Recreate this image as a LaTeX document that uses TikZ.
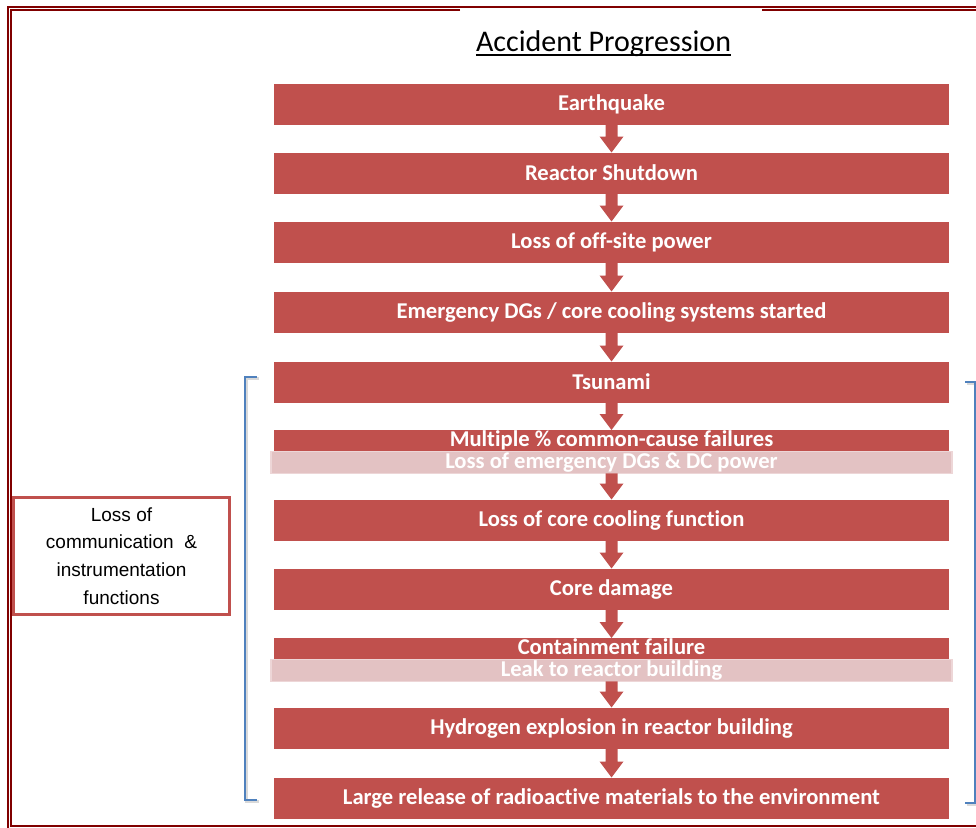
\documentclass[tikz,border=0pt]{standalone}
\usepackage{fontspec}
\setmainfont{Carlito}[Ligatures=NoCommon]
\newfontfamily\arialf{Liberation Sans}
\usetikzlibrary{calc}
\definecolor{boxred}{HTML}{C0504D}
\definecolor{pinkband}{HTML}{E3C2C3}
\definecolor{pinkedge}{HTML}{EDD6D7}
\definecolor{framered}{HTML}{800000}
\definecolor{brblue}{HTML}{4F81BD}
\tikzset{
 stage/.style={fill=boxred, minimum width=675pt, minimum height=41pt, inner sep=0pt, outer sep=0pt, text=white, font=\bfseries\fontsize{22.6}{24}\selectfont},
 thinstage/.style={stage, minimum height=21pt, text height=15pt, text depth=3pt},
 band/.style={fill=pinkband, draw=pinkedge, line width=1.2pt, minimum width=681pt, minimum height=21.5pt, inner sep=0pt, outer sep=0pt, text height=15pt, text depth=3pt, text=white, font=\bfseries\fontsize{22.6}{24}\selectfont},
 flow/.style={fill=boxred},
 brace/.style={draw=brblue, line width=2.8pt},
 braceshadow/.style={draw=black!15, line width=2.8pt},
 frameline/.style={draw=framered, line width=2pt},
 notebox/.style={draw=boxred, line width=3pt, minimum width=216pt, minimum height=117pt, align=center, inner sep=0pt, font=\arialf\fontsize{19}{27.7}\selectfont}
}
\newcommand\blockarrow[2]{\fill[flow] ($(#1.south)+(-6,0)$) -- ($(#2.north)+(-6,-16)$) -- ($(#2.north)+(-12,-16)$) -- (#2.north) -- ($(#2.north)+(12,-16)$) -- ($(#2.north)+(6,-16)$) -- ($(#1.south)+(6,0)$) -- cycle;}
\begin{document}
\begin{tikzpicture}[x=1pt,y=-1pt]
\useasboundingbox (0,0) rectangle (976,827);
% frame
\draw[frameline] (7.8,830) -- (7.8,6.8) -- (980,6.8);
\draw[frameline] (460,9.9) -- (10.9,9.9) -- (10.9,825.8) -- (980,825.8);
\draw[frameline] (762,9.9) -- (980,9.9);
% title
\node[font=\fontsize{30}{32}\selectfont, inner sep=0pt, anchor=base] (title) at (603.5,51) {Accident Progression};
\draw[line width=1.4pt] ($(title.base west)+(0,4)$) -- ($(title.base east)+(0,4)$);
% brackets
\draw[braceshadow] (258.5,378.5) -- (246.5,378.5) -- (246.5,801.5) -- (258.5,801.5);
\draw[brace] (257,377) -- (245,377) -- (245,800) -- (257,800);
\draw[braceshadow] (966.5,383.5) -- (976.5,383.5) -- (976.5,804.5) -- (966.5,804.5);
\draw[brace] (965,382) -- (975,382) -- (975,803) -- (965,803);
% stages
\node[stage] (e1) at (611.5,104) {Earthquake};
\node[stage] (e2) at (611.5,173) {Reactor Shutdown};
\node[stage] (e3) at (611.5,242) {Loss of off-site power};
\node[stage] (e4) at (611.5,312) {Emergency DGs / core cooling systems started};
\node[stage] (e5) at (611.5,382) {Tsunami};
\node[thinstage] (e6a) at (611.5,440.5) {Multiple \% common-cause failures};
\node[band] (e6b) at (611.5,462.5) {Loss of emergency DGs \& DC power};
\node[stage] (e7) at (611.5,520) {Loss of core cooling function};
\node[stage] (e8) at (611.5,589) {Core damage};
\node[thinstage] (e9a) at (611.5,648.5) {Containment failure};
\node[band] (e9b) at (611.5,670.5) {Leak to reactor building};
\node[stage] (e10) at (611.5,728) {Hydrogen explosion in reactor building};
\node[stage] (e11) at (611.5,798) {Large release of radioactive materials to the environment};
% arrows
\blockarrow{e1}{e2}
\blockarrow{e2}{e3}
\blockarrow{e3}{e4}
\blockarrow{e4}{e5}
\blockarrow{e5}{e6a}
\blockarrow{e6b}{e7}
\blockarrow{e7}{e8}
\blockarrow{e8}{e9a}
\blockarrow{e9b}{e10}
\blockarrow{e10}{e11}
% side note
\node[notebox] (note) at (121.5,556) {Loss of\\communication\ \ \&\\instrumentation\\functions};
\end{tikzpicture}
\end{document}
